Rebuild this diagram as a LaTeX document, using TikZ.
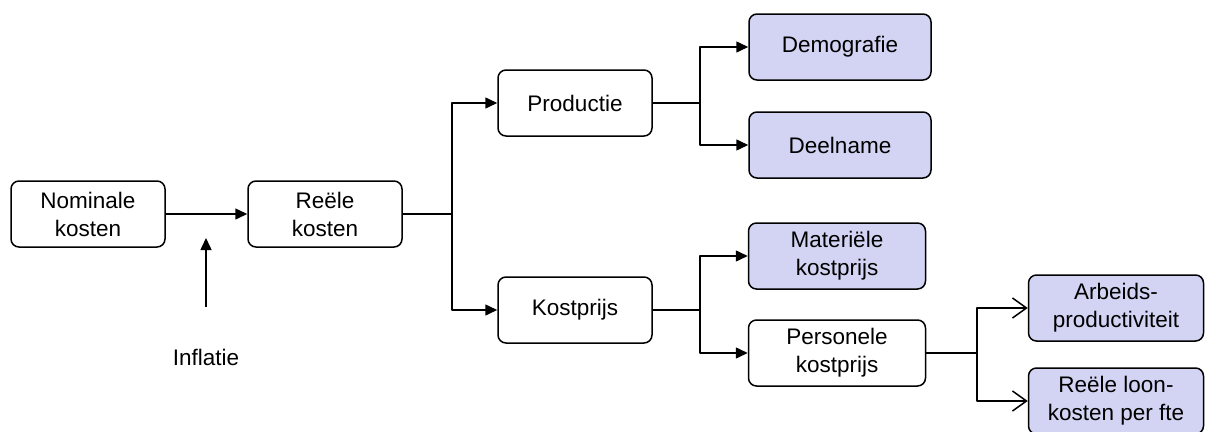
\documentclass[tikz,border=0pt]{standalone}
\usepackage{fontspec}
\setmainfont{Liberation Sans}
\usetikzlibrary{arrows.meta}
\definecolor{ink}{HTML}{000000}
\definecolor{leaffill}{HTML}{D3D3F3}

\begin{document}
\begin{tikzpicture}[
  x=1pt, y=-1pt,
  line width=1.5pt,
  line join=round,
  font=\fontsize{22.5}{28}\selectfont,
  box/.style={draw=ink, rounded corners=8pt, align=center,
    minimum width=154pt, minimum height=66pt, inner sep=2pt},
  leaf/.style={box, fill=leaffill},
  arr/.style={-{Triangle[length=12pt,width=11pt]}},
  openarr/.style={-{Straight Barb[length=14pt,width=20pt]}}
]
  \useasboundingbox (0,0) rectangle (1215,431);

  \node[box] (nom) at (88,214) {Nominale\\kosten};
  \node[box] (reeel) at (325,214) {Reële\\kosten};
  \node (infl) at (206,357) {Inflatie};
  \coordinate (inflStart) at (206,307);
  \coordinate (inflEnd) at (206,238);

  \node[box] (prod) at (575,103) {Productie};
  \node[box] (kost) at (575,310) {Kostprijs};

  \node[leaf, minimum width=182pt] (demo) at (840,47) {Demografie};
  \node[leaf, minimum width=182pt] (deel) at (840,145) {Deelname};
  \node[leaf, minimum width=177pt] (mat) at (837,256) {Materiële\\kostprijs};
  \node[box, minimum width=177pt] (pers) at (837,353) {Personele\\kostprijs};

  \node[leaf, minimum width=175pt] (arb) at (1116,308) {Arbeids-\\productiviteit};
  \node[leaf, minimum width=175pt] (loon) at (1116,401) {Reële loon-\\kosten per fte};

  \coordinate (splitA) at (452,0);
  \coordinate (splitB) at (700,0);
  \coordinate (splitC) at (977,0);

  \draw[arr] (nom) -- (reeel);
  \draw[arr] (inflStart) -- (inflEnd);

  \draw[arr] (reeel.east) -- (splitA |- reeel.east) |- (prod.west);
  \draw[arr] (splitA |- reeel.east) |- (kost.west);

  \draw[arr] (prod.east) -- (splitB |- prod.east) |- (demo.west);
  \draw[arr] (splitB |- prod.east) |- (deel.west);

  \draw[arr] (kost.east) -- (splitB |- kost.east) |- (mat.west);
  \draw[arr] (splitB |- kost.east) |- (pers.west);

  \draw[openarr] (pers.east) -- (splitC |- pers.east) |- (arb.west);
  \draw[openarr] (splitC |- pers.east) |- (loon.west);
\end{tikzpicture}
\end{document}
